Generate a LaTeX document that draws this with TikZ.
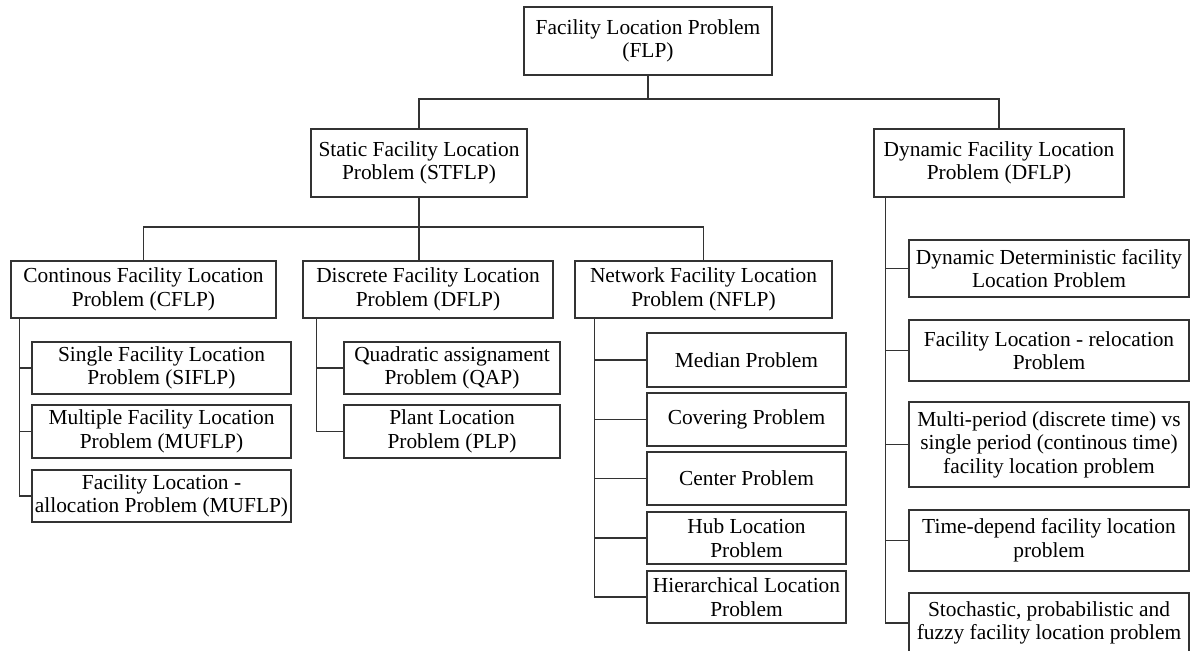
\documentclass[tikz,border=0pt]{standalone}
\usepackage{fontspec}
\setmainfont{Liberation Serif}
\begin{document}
\begin{tikzpicture}[x=0.5pt,y=-0.5pt]
\tikzstyle{box}=[draw=black!80,line width=0.7pt,align=center,inner sep=1pt,font=\fontsize{10.7}{11.8}\selectfont]
\tikzstyle{link}=[draw=black!80,line width=0.7pt]

\useasboundingbox (0,0) rectangle (1192,650);

\node[box,minimum width=124pt,minimum height=34pt] (flp) at (648,41) {Facility Location Problem\\(FLP)};
\node[box,minimum width=108pt,minimum height=34pt] (st) at (419,163) {Static Facility Location\\Problem (STFLP)};
\node[box,minimum width=125pt,minimum height=34pt] (dyn) at (999,163) {Dynamic Facility Location\\Problem (DFLP)};

\node[box,minimum width=132.5pt,minimum height=28.5pt] (cfl) at (143.5,289.5) {Continous Facility Location\\Problem (CFLP)};
\node[box,minimum width=125pt,minimum height=28.5pt] (disc) at (428,289.5) {Discrete Facility Location\\Problem (DFLP)};
\node[box,minimum width=128.5pt,minimum height=28.5pt] (net) at (703.5,289.5) {Network Facility Location\\Problem (NFLP)};

\node[box,minimum width=129.5pt,minimum height=26pt] (si) at (161.5,368) {Single Facility Location\\Problem (SIFLP)};
\node[box,minimum width=129.5pt,minimum height=26.5pt] (mu) at (161.5,431.5) {Multiple Facility Location\\Problem (MUFLP)};
\node[box,minimum width=129.5pt,minimum height=26pt] (al) at (161.5,496) {Facility Location -\\allocation Problem (MUFLP)};

\node[box,minimum width=108pt,minimum height=26pt] (qap) at (452,368) {Quadratic assignament\\Problem (QAP)};
\node[box,minimum width=108pt,minimum height=26.5pt] (plp) at (452,431.5) {Plant Location\\Problem (PLP)};

\node[box,minimum width=99.5pt,minimum height=27pt] (med) at (746.5,360) {Median Problem};
\node[box,minimum width=99.5pt,minimum height=26.5pt] (cov) at (746.5,419.5) {Covering Problem};
\node[box,minimum width=99.5pt,minimum height=26.5pt] (cen) at (746.5,478.5) {Center Problem};
\node[box,minimum width=99.5pt,minimum height=26pt] (hub) at (746.5,538) {Hub Location\\Problem};
\node[box,minimum width=99.5pt,minimum height=26pt] (hie) at (746.5,597) {Hierarchical Location\\Problem};

\node[box,minimum width=140pt,minimum height=28.5pt] (dd) at (1049,268.5) {Dynamic Deterministic facility\\Location Problem};
\node[box,minimum width=140pt,minimum height=30.5pt] (rel) at (1049,350.5) {Facility Location - relocation\\Problem};
\node[box,minimum width=140pt,minimum height=42.5pt] (mp) at (1049,444.5) {Multi-period (discrete time) vs\\single period (continous time)\\facility location problem};
\node[box,minimum width=140pt,minimum height=30.5pt] (td) at (1049,540.5) {Time-depend facility location\\problem};
\node[box,minimum width=140pt,minimum height=30pt] (sf) at (1049,623) {Stochastic, probabilistic and\\fuzzy facility location problem};

\coordinate (t1) at (648,99);
\draw[link] (flp) -- (t1);
\draw[link] (st.north) |- (t1) -| (dyn.north);

\coordinate (t2) at (419,227);
\draw[link] (st) -- (st.south |- disc.north);
\draw[link] (cfl.north) |- (t2) -| (net.north);

\foreach \n in {si,mu,al}
\draw[link] ([xshift=4.5pt]cfl.south west) |- (\n.west);
\foreach \n in {qap,plp}
\draw[link] ([xshift=7pt]disc.south west) |- (\n.west);
\foreach \n in {med,cov,cen,hub,hie}
\draw[link] ([xshift=10pt]net.south west) |- (\n.west);
\foreach \n in {dd,rel,mp,td,sf}
\draw[link] ([xshift=6pt]dyn.south west) |- (\n.west);
\end{tikzpicture}
\end{document}
